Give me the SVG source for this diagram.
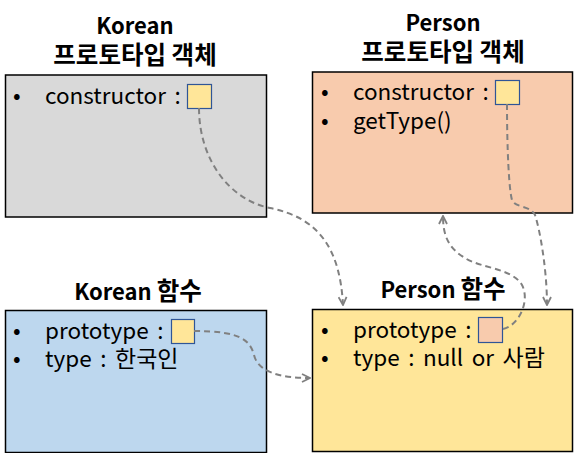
<svg xmlns="http://www.w3.org/2000/svg" width="574" height="453" viewBox="0 0 574 453">
<defs>
<style>
.box{stroke:#000;stroke-width:1.5}
.sq{stroke:#2F5597;stroke-width:1.2}
.title{font-family:"Noto Sans CJK KR","Noto Sans",sans-serif;font-weight:bold;font-size:22px;fill:#000;text-anchor:middle}
.title .h{font-size:24.5px}
.txt{font-family:"Noto Sans CJK KR","Noto Sans",sans-serif;font-size:22.5px;fill:#000;word-spacing:3.5px}
.txt .h{font-size:23px}
.conn{fill:none;stroke:#808080;stroke-width:2;stroke-dasharray:6 4;marker-end:url(#arr)}
</style>
<marker id="arr" viewBox="0 0 10 10" refX="9" refY="5" markerWidth="10" markerHeight="10" markerUnits="userSpaceOnUse" orient="auto">
<path d="M1,1 L9,5 L1,9" fill="none" stroke="#808080" stroke-width="1.8"/>
</marker>
</defs>
<rect width="574" height="453" fill="#fff"/>
<g id="korean-proto">
<text class="title" x="135" y="34">Korean</text>
<text class="title" x="135" y="64"><tspan class="h">프로토타입 객체</tspan></text>
<rect class="box" x="5.5" y="75" width="261" height="142" fill="#D9D9D9"/>
<text class="txt" x="13" y="104">•</text>
<text class="txt" x="45" y="104">constructor :</text>
<rect class="sq" x="187.5" y="84.5" width="24" height="24" fill="#FFE699"/>
</g>
<g id="person-proto">
<text class="title" x="443" y="31">Person</text>
<text class="title" x="443" y="61"><tspan class="h">프로토타입 객체</tspan></text>
<rect class="box" x="312.5" y="72" width="260" height="141" fill="#F8CBAD"/>
<text class="txt" x="321" y="100">•</text>
<text class="txt" x="353" y="100">constructor :</text>
<text class="txt" x="321" y="129">•</text>
<text class="txt" x="353" y="129">getType()</text>
<rect class="sq" x="495.5" y="80.5" width="24" height="24" fill="#FFE699"/>
</g>
<g id="korean-func">
<text class="title" x="138" y="300">Korean <tspan class="h">함수</tspan></text>
<rect class="box" x="5.5" y="310.5" width="261" height="142" fill="#BDD7EE"/>
<text class="txt" x="13" y="339">•</text>
<text class="txt" x="45" y="339">prototype :</text>
<text class="txt" x="13" y="367">•</text>
<text class="txt" x="45" y="367">type : <tspan class="h">한국인</tspan></text>
<rect class="sq" x="171.5" y="319.5" width="23" height="24" fill="#FFE699"/>
</g>
<g id="person-func">
<text class="title" x="443" y="298">Person <tspan class="h">함수</tspan></text>
<rect class="box" x="312.5" y="309.5" width="260" height="142" fill="#FFE699"/>
<text class="txt" x="321" y="338">•</text>
<text class="txt" x="353" y="338">prototype :</text>
<text class="txt" x="321" y="366">•</text>
<text class="txt" x="353" y="366">type : null or <tspan class="h">사람</tspan></text>
<rect class="sq" x="478.5" y="317.5" width="24" height="25" fill="#F8CBAD"/>
</g>
<g id="connectors">
<path class="conn" d="M199,108 C199,160 230,200 270,208 C320,218 340,250 343,305"/>
<path class="conn" d="M194,331 C240,331 250,340 254,355 C258,372 280,378 310,378"/>
<path class="conn" d="M503,329 C520,325 530,300 522,285 C512,268 480,268 465,258 C448,248 443,235 443,216"/>
<path class="conn" d="M507,104 C507,150 509,190 512,200 C515,208 530,205 535,215 C540,230 547,270 547,305"/>
</g>
</svg>
